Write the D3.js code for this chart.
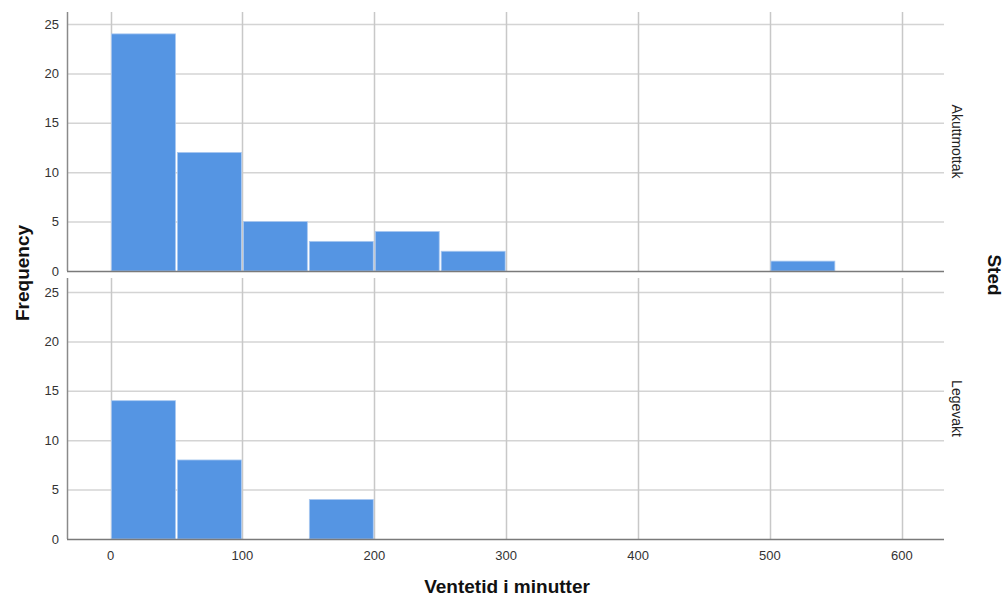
<!DOCTYPE html>
<html>
<head>
<meta charset="utf-8">
<script src="https://cdn.jsdelivr.net/npm/d3@7"></script>
<style>
  body { margin: 0; background: #fff; }
  svg { display: block; font-family: Arial, "Liberation Sans", sans-serif; }
</style>
</head>
<body>
<svg id="chart"></svg>
<script>
// histogram bins (minutes), width 50
const binStarts = [0, 50, 100, 150, 200, 250, 300, 350, 400, 450, 500, 550];
const binWidth = 50;
const panels = ["Akuttmottak", "Legevakt"];
const akuttmottakCounts = [24, 12, 5, 3, 4, 2, 0, 0, 0, 0, 1, 0];
const legevaktCounts = [14, 8, 0, 4, 0, 0, 0, 0, 0, 0, 0, 0];
const xTicks = [0, 100, 200, 300, 400, 500, 600];
const yTicks = [0, 5, 10, 15, 20, 25];

const width = 1008, height = 598;
const svg = d3.select('#chart').attr('width', width).attr('height', height);

const left = 67, right = 944;
const x = d3.scaleLinear().domain([-33, 632]).range([left, right]);

const panelBoxes = [
  {name: panels[0], counts: akuttmottakCounts, top: 12, bottom: 271},
  {name: panels[1], counts: legevaktCounts, top: 278, bottom: 539}
];

panelBoxes.forEach((p, pi) => {
  const y = d3.scaleLinear().domain([0, 25]).range([p.bottom, p.bottom - 247]);
  const g = svg.append('g');

  // horizontal grid
  g.selectAll('.hg').data(yTicks.filter(t => t > 0)).enter().append('line')
    .attr('x1', left).attr('x2', right)
    .attr('y1', d => y(d) + 0.5).attr('y2', d => y(d) + 0.5)
    .attr('stroke', '#d4d4d4').attr('stroke-width', 1.5);

  // vertical grid
  g.selectAll('.vg').data(xTicks).enter().append('line')
    .attr('x1', d => Math.round(x(d)) + 0.5).attr('x2', d => Math.round(x(d)) + 0.5)
    .attr('y1', p.top).attr('y2', p.bottom)
    .attr('stroke', '#c8c8c8').attr('stroke-width', 1.5);

  // bars
  const data = binStarts.map((b, i) => ({x0: b, n: p.counts[i]})).filter(d => d.n > 0);
  g.selectAll('rect').data(data).enter().append('rect')
    .attr('x', d => x(d.x0) + 1)
    .attr('width', d => x(d.x0 + binWidth) - x(d.x0) - 2)
    .attr('y', d => y(d.n))
    .attr('height', d => y(0) - y(d.n))
    .attr('fill', '#5595e3')
    .attr('stroke', '#a9c8f0').attr('stroke-width', 0.8);

  // y axis line + base line
  g.append('line').attr('x1', left + 0.5).attr('x2', left + 0.5)
    .attr('y1', p.top).attr('y2', p.bottom)
    .attr('stroke', '#8a8a8a').attr('stroke-width', 1.5);
  g.append('line').attr('x1', left).attr('x2', right)
    .attr('y1', p.bottom + 0.5).attr('y2', p.bottom + 0.5)
    .attr('stroke', '#7a7a7a').attr('stroke-width', 1.5);

  // y tick labels
  g.selectAll('.yl').data(yTicks).enter().append('text')
    .attr('x', 59).attr('y', d => y(d) + 4.5)
    .attr('text-anchor', 'end').attr('font-size', 13).attr('fill', '#333')
    .text(d => d);

  // panel label
  const cy = (p.top + p.bottom) / 2;
  svg.append('text')
    .attr('transform', `translate(952,${cy}) rotate(90)`)
    .attr('text-anchor', 'middle').attr('font-size', 14).attr('fill', '#222')
    .text(p.name);
});

// x tick labels
svg.selectAll('.xl').data(xTicks).enter().append('text')
  .attr('x', d => x(d)).attr('y', 560)
  .attr('text-anchor', 'middle').attr('font-size', 13).attr('fill', '#333')
  .text(d => d);

// axis titles
svg.append('text').attr('x', 507).attr('y', 593)
  .attr('text-anchor', 'middle').attr('font-size', 19).attr('font-weight', 'bold').attr('fill', '#111')
  .text('Ventetid i minutter');
svg.append('text')
  .attr('transform', 'translate(29,273) rotate(-90)')
  .attr('text-anchor', 'middle').attr('font-size', 19).attr('font-weight', 'bold').attr('fill', '#111')
  .text('Frequency');
svg.append('text')
  .attr('transform', 'translate(988,275) rotate(90)')
  .attr('text-anchor', 'middle').attr('font-size', 19).attr('font-weight', 'bold').attr('fill', '#111')
  .text('Sted');
</script>
</body>
</html>
